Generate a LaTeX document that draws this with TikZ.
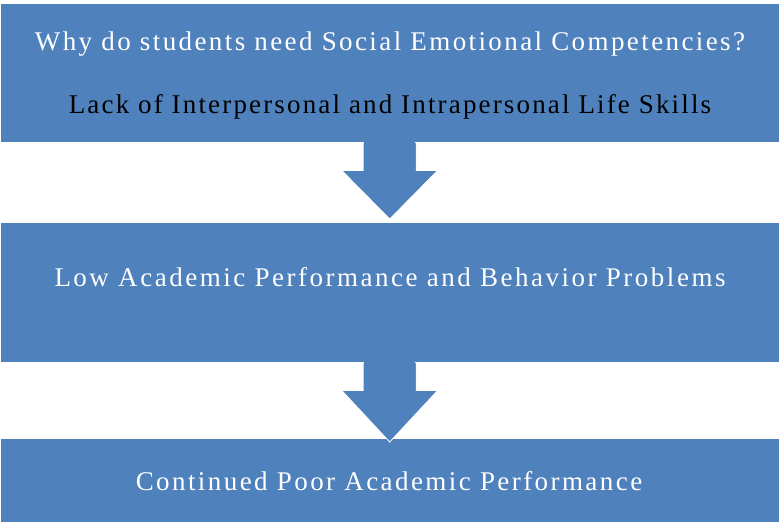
\documentclass[tikz,border=0pt]{standalone}
\usepackage{fontspec}
\setmainfont{Liberation Serif}
\usetikzlibrary{calc}
\definecolor{boxblue}{HTML}{4F81BD}
\tikzset{
  blockbox/.style={fill=boxblue, draw=none, inner sep=0pt, minimum width=778pt, anchor=north west},
  bigarrow/.style={fill=boxblue, draw=white, line width=0.8pt, line join=miter},
  boxtext/.style={anchor=base, inner sep=0pt, font=\fontsize{27}{32}\selectfont},
}
\begin{document}
\begin{tikzpicture}[x=1pt,y=-1pt]
\useasboundingbox (0,0) rectangle (779,523);
\node[blockbox, minimum height=138pt] (b1) at (0.5,4) {};
\node[blockbox, minimum height=139pt] (b2) at (0.5,223) {};
\node[blockbox, minimum height=83pt] (b3) at (0.5,439) {};
% arrows
\draw[bigarrow] ($(b1.south)+(-26.5,0)$) -- ($(b1.south)+(26.5,0)$) -- ($(b1.south)+(26.5,28)$)
  -- ($(b1.south)+(48,28)$) -- ($(b2.north)+(0,-4)$) -- ($(b1.south)+(-48,28)$)
  -- ($(b1.south)+(-26.5,28)$) -- cycle;
\draw[bigarrow] ($(b2.south)+(-26.5,0)$) -- ($(b2.south)+(26.5,0)$) -- ($(b2.south)+(26.5,28)$)
  -- ($(b2.south)+(48,28)$) -- ($(b3.north)+(0,3)$) -- ($(b2.south)+(-48,28)$)
  -- ($(b2.south)+(-26.5,28)$) -- cycle;
\fill[boxblue] ($(b1.south)+(-25.5,-1)$) rectangle ($(b1.south)+(25.5,1)$);
\fill[boxblue] ($(b2.south)+(-25.5,-1)$) rectangle ($(b2.south)+(25.5,1)$);
% texts
\node[boxtext, text=white] (t1) at (390,50) {\addfontfeature{LetterSpace=8.9}Why do students need Social Emotional Competencies?};
\node[boxtext, text=black] (t2) at (390,113) {\addfontfeature{LetterSpace=8.0}Lack of Interpersonal and Intrapersonal Life Skills};
\node[boxtext, text=white] (t3) at (390,286) {\addfontfeature{LetterSpace=9.3}Low Academic Performance and Behavior Problems};
\node[boxtext, text=white] (t4) at (389,490) {\addfontfeature{LetterSpace=9}Continued Poor Academic Performance};
\end{tikzpicture}
\end{document}
